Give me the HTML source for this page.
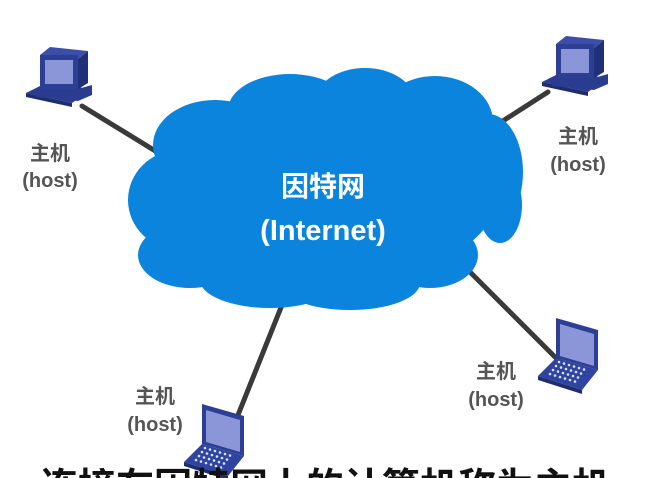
<!DOCTYPE html>
<html><head><meta charset="utf-8"><style>
html,body{margin:0;padding:0;background:#fff;width:648px;height:478px;overflow:hidden;}
body{position:relative;}
svg{position:absolute;left:0;top:0;overflow:hidden;}
</style></head><body>
<svg width="648" height="478" viewBox="0 0 648 478" xmlns="http://www.w3.org/2000/svg">
<defs>
<g id="pc">
 <polygon points="0,48 20,38 66,44 46,58" fill="#2a3d8f"/>
 <polygon points="0,48 46,58 46,62 0,52" fill="#1e2d6e"/>
 <polygon points="14,10 24,2 62,6 52,14" fill="#3b4fa8"/>
 <rect x="14" y="10" width="38" height="34" fill="#2d3f95"/>
 <polygon points="52,14 62,6 62,38 52,44" fill="#1f2f78"/>
 <rect x="19" y="15" width="28" height="24" fill="#8a96d8"/>
 <polygon points="10,44 52,44 66,40 66,50 52,56 10,52" fill="#2a3c90"/>
</g>
<g id="lap">
 <polygon points="18,0 60,12 60,52 18,40" fill="#2d3f95"/>
 <polygon points="22,6 56,16 56,48 22,38" fill="#8a96d8"/>
 <polygon points="0,58 18,40 60,52 44,72" fill="#2f44a0"/>
 <polygon points="0,58 44,72 44,76 0,62" fill="#1e2d6e"/>
 <g fill="#dfe4ff">
  <circle cx="12" cy="56" r="1.3"/><circle cx="17" cy="57.5" r="1.3"/><circle cx="22" cy="59" r="1.3"/><circle cx="27" cy="60.5" r="1.3"/><circle cx="32" cy="62" r="1.3"/><circle cx="37" cy="63.5" r="1.3"/>
  <circle cx="15" cy="52" r="1.3"/><circle cx="20" cy="53.5" r="1.3"/><circle cx="25" cy="55" r="1.3"/><circle cx="30" cy="56.5" r="1.3"/><circle cx="35" cy="58" r="1.3"/><circle cx="40" cy="59.5" r="1.3"/>
  <circle cx="18" cy="48" r="1.3"/><circle cx="23" cy="49.5" r="1.3"/><circle cx="28" cy="51" r="1.3"/><circle cx="33" cy="52.5" r="1.3"/><circle cx="38" cy="54" r="1.3"/><circle cx="43" cy="55.5" r="1.3"/>
  <circle cx="21" cy="44" r="1.3"/><circle cx="26" cy="45.5" r="1.3"/><circle cx="31" cy="47" r="1.3"/><circle cx="36" cy="48.5" r="1.3"/><circle cx="41" cy="50" r="1.3"/><circle cx="46" cy="51.5" r="1.3"/>
 </g>
</g>
</defs>
<g stroke="#3a3a3a" stroke-width="5" stroke-linecap="round">
 <line x1="82" y1="106" x2="170" y2="160"/>
 <line x1="548" y1="92" x2="495" y2="126"/>
 <line x1="460" y1="262" x2="560" y2="362"/>
 <line x1="282" y1="305" x2="238" y2="415"/>
</g>
<g fill="#0a84dc">
 <ellipse cx="322" cy="195" rx="175" ry="90"/>
 <ellipse cx="215" cy="145" rx="62" ry="45"/>
 <ellipse cx="290" cy="110" rx="62" ry="36"/>
 <ellipse cx="365" cy="102" rx="50" ry="34"/>
 <ellipse cx="435" cy="122" rx="58" ry="46"/>
 <ellipse cx="488" cy="172" rx="35" ry="58"/>
 <ellipse cx="500" cy="205" rx="22" ry="38"/>
 <ellipse cx="180" cy="200" rx="52" ry="50"/>
 <ellipse cx="190" cy="255" rx="52" ry="33"/>
 <ellipse cx="270" cy="280" rx="70" ry="28"/>
 <ellipse cx="350" cy="283" rx="70" ry="27"/>
 <ellipse cx="430" cy="255" rx="48" ry="33"/>
</g>
<g font-family="Liberation Sans, 'Noto Sans CJK SC', sans-serif" font-weight="bold" text-anchor="middle">
 <text x="323" y="196" font-size="28" fill="#fff" font-family="'Noto Sans CJK SC', sans-serif">因特网</text>
 <text x="323" y="240" font-size="29" fill="#fff">(Internet)</text>
 <g fill="#555" font-size="20">
  <text x="50" y="160" font-family="'Noto Sans CJK SC', sans-serif">主机</text>
  <text x="50" y="187">(host)</text>
  <text x="578" y="143" font-family="'Noto Sans CJK SC', sans-serif">主机</text>
  <text x="578" y="171">(host)</text>
  <text x="496" y="378" font-family="'Noto Sans CJK SC', sans-serif">主机</text>
  <text x="496" y="406">(host)</text>
  <text x="155" y="403" font-family="'Noto Sans CJK SC', sans-serif">主机</text>
  <text x="155" y="431">(host)</text>
 </g>
</g>
<use href="#pc" x="26" y="45"/>
<use href="#pc" x="542" y="34"/>
<use href="#lap" x="538" y="318"/>
<use href="#lap" x="184" y="404"/>
<text x="325" y="500" font-size="38" font-weight="bold" text-anchor="middle" fill="#111" font-family="'Noto Sans CJK SC', sans-serif">连接在因特网上的计算机称为主机</text>
</svg>
</body></html>
